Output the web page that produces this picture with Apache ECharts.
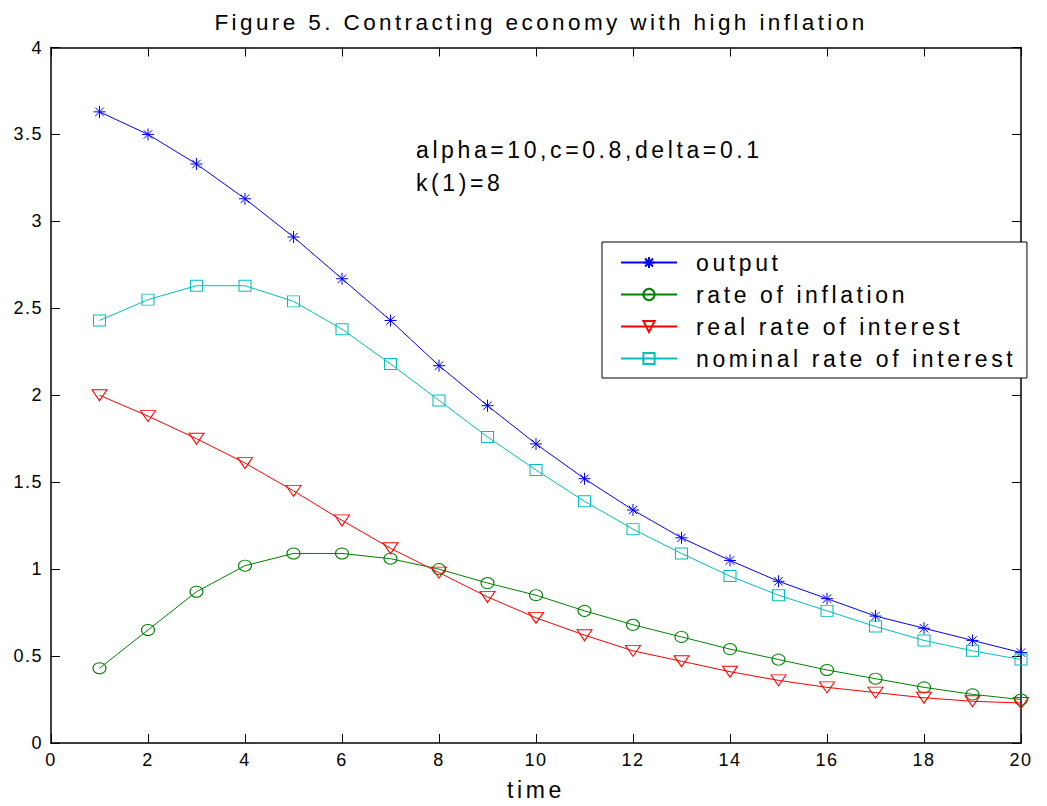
<!DOCTYPE html>
<html>
<head>
<meta charset="utf-8">
<script src="https://cdn.jsdelivr.net/npm/echarts@6/dist/echarts.min.js"></script>
<style>
  html, body { margin: 0; padding: 0; background: #fff; }
  #main { width: 1047px; height: 806px; }
  #main text { letter-spacing: 3.6px; }
  #main text[style*="22.5px"] { letter-spacing: 3.4px; }
  #main text[style*="18px"] { letter-spacing: 1.5px; }
</style>
</head>
<body>
<div id="main"></div>
<script>
const time = [1,2,3,4,5,6,7,8,9,10,11,12,13,14,15,16,17,18,19,20];
const output = [3.63,3.50,3.33,3.13,2.91,2.67,2.43,2.17,1.94,1.72,1.52,1.34,1.18,1.05,0.93,0.83,0.73,0.66,0.59,0.52];
const inflation = [0.43,0.65,0.87,1.02,1.09,1.09,1.06,1.00,0.92,0.85,0.76,0.68,0.61,0.54,0.48,0.42,0.37,0.32,0.28,0.25];
const realRate = [2.00,1.88,1.75,1.61,1.45,1.28,1.12,0.98,0.84,0.72,0.62,0.53,0.47,0.41,0.36,0.32,0.29,0.26,0.24,0.23];
const nominalRate = [2.43,2.55,2.63,2.63,2.54,2.38,2.18,1.97,1.76,1.57,1.39,1.23,1.09,0.96,0.85,0.76,0.67,0.59,0.53,0.48];
const seriesNames = ['output','rate of inflation','real rate of interest','nominal rate of interest'];
const titleText = 'Figure 5. Contracting economy with high inflation';
const noteLines = ['alpha=10,c=0.8,delta=0.1','k(1)=8'];
const xName = 'time';

const FONT = '"Liberation Sans", Arial, Helvetica, sans-serif';
const pairs = arr => time.map((t, i) => [t, arr[i]]);
const asterisk = 'path://M0,-10L0,10M-10,0L10,0M-7.07,-7.07L7.07,7.07M-7.07,7.07L7.07,-7.07';

function mkSeries(name, arr, color, symbol, size, rotate) {
  return {
    name: name, type: 'line', data: pairs(arr),
    xAxisIndex: 0, yAxisIndex: 0,
    color: color,
    symbol: symbol, symbolSize: size, symbolRotate: rotate || 0,
    showAllSymbol: true,
    lineStyle: { color: color, width: 1 },
    itemStyle: { color: 'none', borderColor: color, borderWidth: 1 },
    emphasis: { disabled: true },
    animation: false
  };
}

const chart = echarts.init(document.getElementById('main'), null, { renderer: 'svg' });
const axisCommon = {
  type: 'value', min: 0,
  axisLine: { show: true, onZero: false, lineStyle: { color: '#000', width: 1.5 } },
  axisTick: { show: true, inside: true, length: 9, lineStyle: { color: '#000', width: 1 } },
  splitLine: { show: false }
};
chart.setOption({
  backgroundColor: '#fff',
  animation: false,
  title: {
    text: titleText, left: 536, top: 6, textAlign: 'center',
    textStyle: { fontFamily: FONT, fontSize: 22.5, fontWeight: 'normal', color: '#000' }
  },
  grid: { left: 51, right: 26, top: 47.5, bottom: 63, containLabel: false },
  xAxis: [
    Object.assign({}, axisCommon, {
      position: 'bottom', max: 20, interval: 2,
      name: xName, nameLocation: 'middle', nameGap: 35,
      nameTextStyle: { fontFamily: FONT, fontSize: 23, color: '#000' },
      axisLabel: { fontFamily: FONT, fontSize: 18, color: '#000', margin: 8 }
    }),
    Object.assign({}, axisCommon, {
      position: 'top', max: 20, interval: 2, axisLabel: { show: false }
    })
  ],
  yAxis: [
    Object.assign({}, axisCommon, {
      position: 'left', max: 4, interval: 0.5,
      axisLabel: { fontFamily: FONT, fontSize: 18, color: '#000', margin: 8 }
    }),
    Object.assign({}, axisCommon, {
      position: 'right', max: 4, interval: 0.5, axisLabel: { show: false }
    })
  ],
  legend: {
    data: seriesNames,
    orient: 'vertical',
    left: 602, top: 242,
    itemWidth: 56, itemHeight: 14, itemGap: 9,
    padding: [9, 97, 8, 18],
    backgroundColor: '#fff',
    borderColor: '#000', borderWidth: 1,
    selectedMode: false,
    textStyle: { fontFamily: FONT, fontSize: 23, color: '#000', padding: [0, 0, 0, 14] }
  },
  graphic: [
    { type: 'text', left: 416, top: 138, style: { text: noteLines[0], font: '23px ' + FONT, fill: '#000' } },
    { type: 'text', left: 416, top: 171, style: { text: noteLines[1], font: '23px ' + FONT, fill: '#000' } }
  ],
  series: [
    mkSeries(seriesNames[0], output, '#0000ff', asterisk, 12),
    mkSeries(seriesNames[1], inflation, '#008000', 'circle', [13, 11]),
    mkSeries(seriesNames[2], realRate, '#ff0000', 'triangle', [15, 11], 180),
    mkSeries(seriesNames[3], nominalRate, '#00bfbf', 'rect', [12, 11])
  ]
});
</script>
</body>
</html>
